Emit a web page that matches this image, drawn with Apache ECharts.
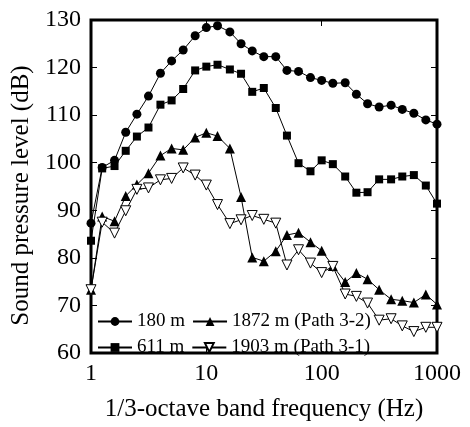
<!DOCTYPE html>
<html>
<head>
<meta charset="utf-8">
<script src="https://cdn.jsdelivr.net/npm/echarts@6/dist/echarts.min.js"></script>
<style>html,body{margin:0;padding:0;background:#fff}#c{width:470px;height:427px}</style>
</head>
<body>
<div id="c"></div>
<script>
const freqs = [1, 1.25, 1.6, 2, 2.5, 3.15, 4, 5, 6.3, 8, 10, 12.5, 16, 20, 25, 31.5, 40, 50, 63, 80, 100, 125, 160, 200, 250, 315, 400, 500, 630, 800, 1000];
const s180 = [87.3, 99, 100.5, 106.4, 110.2, 114, 118.8, 121.4, 123.7, 126.7, 128.4, 128.8, 127.5, 125, 123.5, 122.3, 122.3, 119.4, 119.2, 117.9, 117.3, 116.7, 116.8, 114.4, 112.4, 111.7, 112.1, 111.2, 110.4, 109, 108.1];
const s611 = [83.6, 98.8, 99.3, 102.5, 105.5, 107.4, 112.2, 113.1, 115.5, 119.4, 120.2, 120.6, 119.6, 118.7, 114.9, 115.7, 111.5, 105.7, 99.9, 98.2, 100.5, 99.7, 97.1, 93.7, 93.8, 96.5, 96.5, 97.1, 97.4, 95.2, 91.4];
const s1872 = [73.3, 88.7, 87.7, 93, 95.4, 97.8, 101.5, 103, 102.7, 105.3, 106.3, 105.6, 103, 92.8, 80.1, 79.3, 81.4, 84.8, 85.3, 83.3, 81.5, 78.3, 74.9, 76.8, 75.5, 73.3, 71.3, 71, 70.6, 72.3, 70.2];
const s1903 = [73.3, 87.5, 85.2, 89.9, 94.4, 94.7, 96.4, 96.7, 98.9, 97.4, 95.3, 91.2, 87.2, 88, 88.9, 88.1, 87.3, 78.5, 81.7, 78.9, 76.9, 78.2, 72.4, 71.9, 70.5, 66.9, 67.2, 65.7, 64.5, 65.4, 65.4];
const names = ['180 m', '611 m', '1872 m (Path 3-2)', '1903 m (Path 3-1)'];
const xTicks = [1, 10, 100, 1000];

const FONT = '"Liberation Serif", "DejaVu Serif", serif';
function pairs(v) { return freqs.map((f, i) => [f, v[i]]); }
const downTri = 'path://M0,0 L10,0 L5,8.66 Z';

function mk(name, data, symbol, size, hollow) {
  return {
    name: name, type: 'line', data: pairs(data), symbol: symbol, symbolSize: size,
    clip: false, xAxisIndex: 0, yAxisIndex: 0,
    lineStyle: { color: '#000', width: 1 },
    itemStyle: hollow ? { color: '#fff', borderColor: '#000', borderWidth: 1 } : { color: '#000', borderColor: '#000', borderWidth: 0 },
    emphasis: { disabled: true }, z: 3
  };
}

const chart = echarts.init(document.getElementById('c'), null, { renderer: 'canvas' });
const axisCommon = {
  axisLine: { show: false },
  splitLine: { show: false },
  minorTick: { show: false }
};
const legendCommon = {
  itemWidth: 34, itemHeight: 11, itemGap: 7, padding: 0,
  textStyle: { fontFamily: FONT, fontSize: 19, color: '#000' }, selectedMode: false
};
chart.setOption({
  animation: false,
  backgroundColor: '#fff',
  textStyle: { fontFamily: FONT, color: '#000' },
  grid: { left: 91, right: 33, top: 20, bottom: 65, show: true, borderColor: '#000', borderWidth: 3, backgroundColor: 'transparent' },
  legend: [
    Object.assign({ data: [names[0], names[2]], left: 97, top: 312 }, legendCommon),
    Object.assign({ data: [names[1], names[3]], left: 97, top: 338 }, legendCommon)
  ],
  xAxis: [
    Object.assign({}, axisCommon, {
      type: 'log', logBase: 10, min: xTicks[0], max: xTicks[xTicks.length - 1], position: 'bottom',
      name: '1/3-octave band frequency (Hz)', nameLocation: 'middle', nameGap: 44,
      nameTextStyle: { fontFamily: FONT, fontSize: 25, color: '#000' },
      axisTick: { show: true, inside: true, length: 6, lineStyle: { color: '#000', width: 1 } },
      axisLabel: { fontFamily: FONT, fontSize: 24, color: '#000', margin: 9, formatter: v => String(Math.round(v)) }
    }),
    Object.assign({}, axisCommon, {
      type: 'log', logBase: 10, min: xTicks[0], max: xTicks[xTicks.length - 1], position: 'top',
      axisTick: { show: true, inside: true, length: 6, lineStyle: { color: '#000', width: 1 } },
      axisLabel: { show: false }
    })
  ],
  yAxis: [
    Object.assign({}, axisCommon, {
      type: 'value', min: 60, max: 130, interval: 10, position: 'left',
      name: 'Sound pressure level (dB)', nameLocation: 'middle', nameGap: 43,
      nameTextStyle: { fontFamily: FONT, fontSize: 25, color: '#000', padding: [0, 18, 0, 0] },
      axisTick: { show: true, inside: true, length: 6, lineStyle: { color: '#000', width: 1 } },
      axisLabel: { fontFamily: FONT, fontSize: 24, color: '#000', margin: 10 }
    }),
    Object.assign({}, axisCommon, {
      type: 'value', min: 60, max: 130, interval: 10, position: 'right',
      axisTick: { show: true, inside: true, length: 6, lineStyle: { color: '#000', width: 1 } },
      axisLabel: { show: false }
    })
  ],
  series: [
    mk(names[0], s180, 'circle', 9, false),
    mk(names[1], s611, 'rect', 8, false),
    mk(names[2], s1872, 'triangle', 10, false),
    mk(names[3], s1903, downTri, 10, true)
  ]
});
</script>
</body>
</html>
